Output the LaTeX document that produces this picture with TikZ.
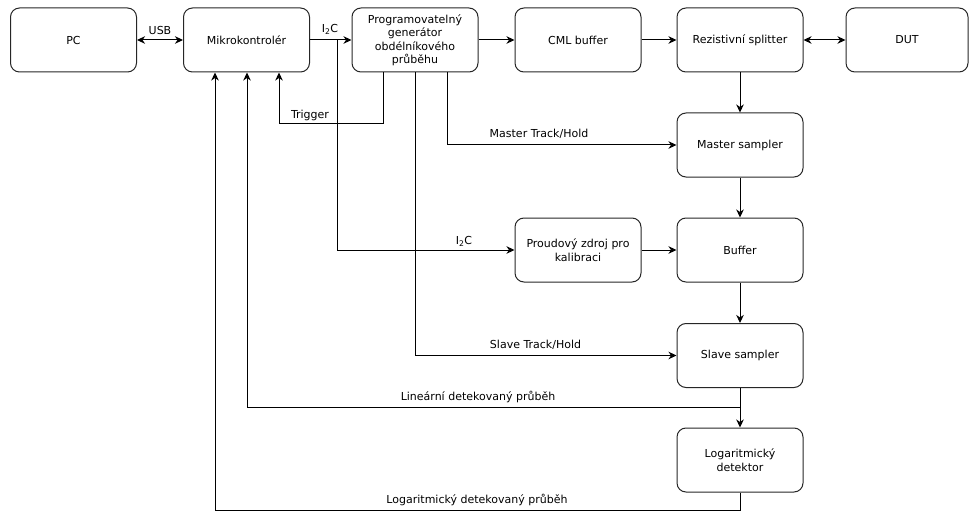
\documentclass[tikz,border=0pt]{standalone}
\usepackage{fontspec}
\setmainfont{DejaVu Sans}
\usetikzlibrary{arrows.meta}
\begin{document}
\begin{tikzpicture}[x=1pt,y=-1pt,
  txt/.style={font=\fontsize{11}{13.5}\selectfont},
  box/.style={txt, draw=black!85, line width=1pt, rounded corners=9pt,
    minimum width=126pt, minimum height=64pt, align=center, inner sep=2pt},
  conn/.style={line width=1pt, -{Stealth[length=8pt,width=7.5pt,inset=2.5pt]}},
  biconn/.style={line width=1pt, {Stealth[length=8pt,width=7.5pt,inset=2.5pt]}-{Stealth[length=8pt,width=7.5pt,inset=2.5pt]}},
  lbl/.style={txt, inner sep=0pt}]
\useasboundingbox (0,0) rectangle (969,516);
% boxes
\node[box] (pc)   at (73.5,40)  {PC};
\node[box] (mk)   at (246.5,40) {Mikrokontrolér};
\node[box] (prog) at (415,40)   {Programovatelný\\generátor\\obdélníkového\\průběhu};
\node[box] (cml)  at (578,40)   {CML buffer};
\node[box] (rez)  at (740,40)   {Rezistivní splitter};
\node[box, minimum width=122pt] (dut) at (907,40) {DUT};
\node[box] (ms)   at (740,145)  {Master sampler};
\node[box] (pz)   at (578,250)  {Proudový zdroj pro\\kalibraci};
\node[box] (buf)  at (740,250)  {Buffer};
\node[box] (ss)   at (740,355.5){Slave sampler};
\node[box] (ld)   at (740,460)  {Logaritmický\\detektor};
% helper coordinates
\coordinate (i2cj) at (337,40);
\coordinate (trigb) at (383,124);
\coordinate (linj) at (740,407);
\coordinate (logb) at (740,510);
% top chain
\draw[biconn] (pc) -- (mk);
\draw[conn] (mk) -- (prog);
\draw[conn] (prog) -- (cml);
\draw[conn] (cml) -- (rez);
\draw[biconn] (rez) -- (dut);
% right column
\draw[conn] (rez) -- (ms);
\draw[conn] (ms) -- (buf);
\draw[conn] (pz) -- (buf);
\draw[conn] (buf) -- (ss);
\draw[conn] (ss) -- (ld);
% I2C branch
\draw[conn] (i2cj) |- (pz);
% trigger
\draw[conn] ([xshift=-32pt]prog.south) -- (trigb) -| ([xshift=32.5pt]mk.south);
% track/hold
\draw[conn] ([xshift=32pt]prog.south) |- (ms);
\draw[conn] (prog.south) |- (ss);
% detected outputs
\draw[conn] (linj) -| ([xshift=0.5pt]mk.south);
\draw[conn] (ld.south) -- (logb) -| ([xshift=-31.5pt]mk.south);
% labels
\node[lbl] (lusb) at (160,30) {USB};
\node[lbl] (li2ca) at (330,29) {I\textsubscript{2}C};
\node[lbl] (li2cb) at (464,241) {I\textsubscript{2}C};
\node[lbl] (ltrig) at (310,115) {Trigger};
\node[lbl] (lmth) at (539,134) {Master Track/Hold};
\node[lbl] (lsth) at (535.5,345) {Slave Track/Hold};
\node[lbl] (llin) at (478,397) {Lineární detekovaný průběh};
\node[lbl] (llog) at (477,500) {Logaritmický detekovaný průběh};
\end{tikzpicture}
\end{document}
